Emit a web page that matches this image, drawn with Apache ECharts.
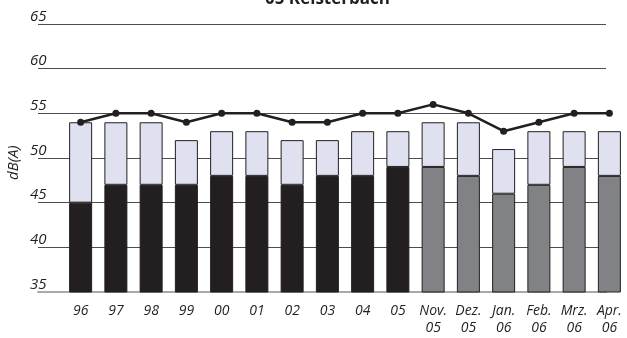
<!DOCTYPE html>
<html>
<head>
<meta charset="utf-8">
<script src="https://cdn.jsdelivr.net/npm/echarts@6/dist/echarts.min.js"></script>
<style>
  html, body { margin: 0; padding: 0; background: #fff; }
  #chart { width: 627px; height: 338px; }
</style>
</head>
<body>
<div id="chart"></div>
<script>
// Kategorien (Jahre, dann Monate)
var categories = ['96', '97', '98', '99', '00', '01', '02', '03', '04', '05',
  'Nov.\n05', 'Dez.\n05', 'Jan.\n06', 'Feb.\n06', 'Mrz.\n06', 'Apr.\n06'];
// unterer (dunkler) Balkenteil
var lowerValues = [45, 47, 47, 47, 48, 48, 47, 48, 48, 49, 49, 48, 46, 47, 49, 48];
// Gesamthoehe der Balken
var totalValues = [54, 54, 54, 52, 53, 53, 52, 52, 53, 53, 54, 54, 51, 53, 53, 53];
// Linie
var lineValues = [54, 55, 55, 54, 55, 55, 54, 54, 55, 55, 56, 55, 53, 54, 55, 55];
var yTicks = [35, 40, 45, 50, 55, 60, 65];

var chart = echarts.init(document.getElementById('chart'));

// Jahreswerte dunkel, Monatswerte grau
var lowerData = lowerValues.map(function (v, i) {
  return { value: v, itemStyle: { color: i < 10 ? '#231f20' : '#808285' } };
});
var upperData = totalValues.map(function (v, i) {
  return v - lowerValues[i];
});

var option = {
  animation: false,
  title: {
    text: '05 Kelsterbach',
    left: 260,
    top: -14,
    textStyle: { fontFamily: 'Open Sans', fontWeight: 'bold', fontSize: 17, color: '#231f20' }
  },
  graphic: [{
    type: 'text',
    x: 6,
    y: 180,
    rotation: Math.PI / 2,
    style: { text: 'dB(A)', font: 'italic 15px "Open Sans"', fill: '#231f20' }
  }],
  grid: [
    { left: 38, right: 21, top: 24, bottom: 46 },
    { left: 63, right: -5, top: 24, bottom: 46 }
  ],
  xAxis: [{
    gridIndex: 0,
    type: 'value',
    min: 0, max: 1,
    axisLine: { show: true, lineStyle: { color: '#a7a9ac', width: 2 } },
    axisTick: { show: false },
    axisLabel: { show: false },
    splitLine: { show: false }
  }, {
    gridIndex: 1,
    type: 'category',
    data: categories,
    axisLine: { show: false },
    axisTick: { show: false },
    axisLabel: {
      interval: 0,
      margin: 11,
      fontFamily: 'Open Sans',
      fontStyle: 'italic',
      fontSize: 14,
      lineHeight: 17,
      color: '#231f20'
    }
  }],
  yAxis: [{
    gridIndex: 0,
    type: 'value',
    min: 35, max: 65, interval: 5,
    axisLine: { show: false },
    axisTick: { show: false },
    axisLabel: {
      align: 'left',
      verticalAlign: 'bottom',
      margin: 8,
      fontFamily: 'Open Sans',
      fontStyle: 'italic',
      fontSize: 15,
      color: '#231f20',
      formatter: function (v) { return yTicks.indexOf(v) >= 0 ? String(v) : ''; }
    },
    splitLine: { show: true, lineStyle: { color: '#4d4d4f', width: 1 } }
  }, {
    gridIndex: 1,
    type: 'value',
    min: 35, max: 65, interval: 5,
    show: false,
    splitLine: { show: false }
  }],
  series: [{
    type: 'bar',
    xAxisIndex: 1, yAxisIndex: 1,
    stack: 'a',
    barWidth: 23,
    itemStyle: { borderColor: '#231f20', borderWidth: 1 },
    data: lowerData
  }, {
    type: 'bar',
    xAxisIndex: 1, yAxisIndex: 1,
    stack: 'a',
    barWidth: 23,
    itemStyle: { color: '#dfe1f0', borderColor: '#231f20', borderWidth: 1 },
    data: upperData
  }, {
    type: 'line',
    xAxisIndex: 1, yAxisIndex: 1,
    data: lineValues,
    symbol: 'circle',
    symbolSize: 7,
    lineStyle: { color: '#231f20', width: 2.5 },
    itemStyle: { color: '#231f20' }
  }]
};

chart.setOption(option);
</script>
</body>
</html>
